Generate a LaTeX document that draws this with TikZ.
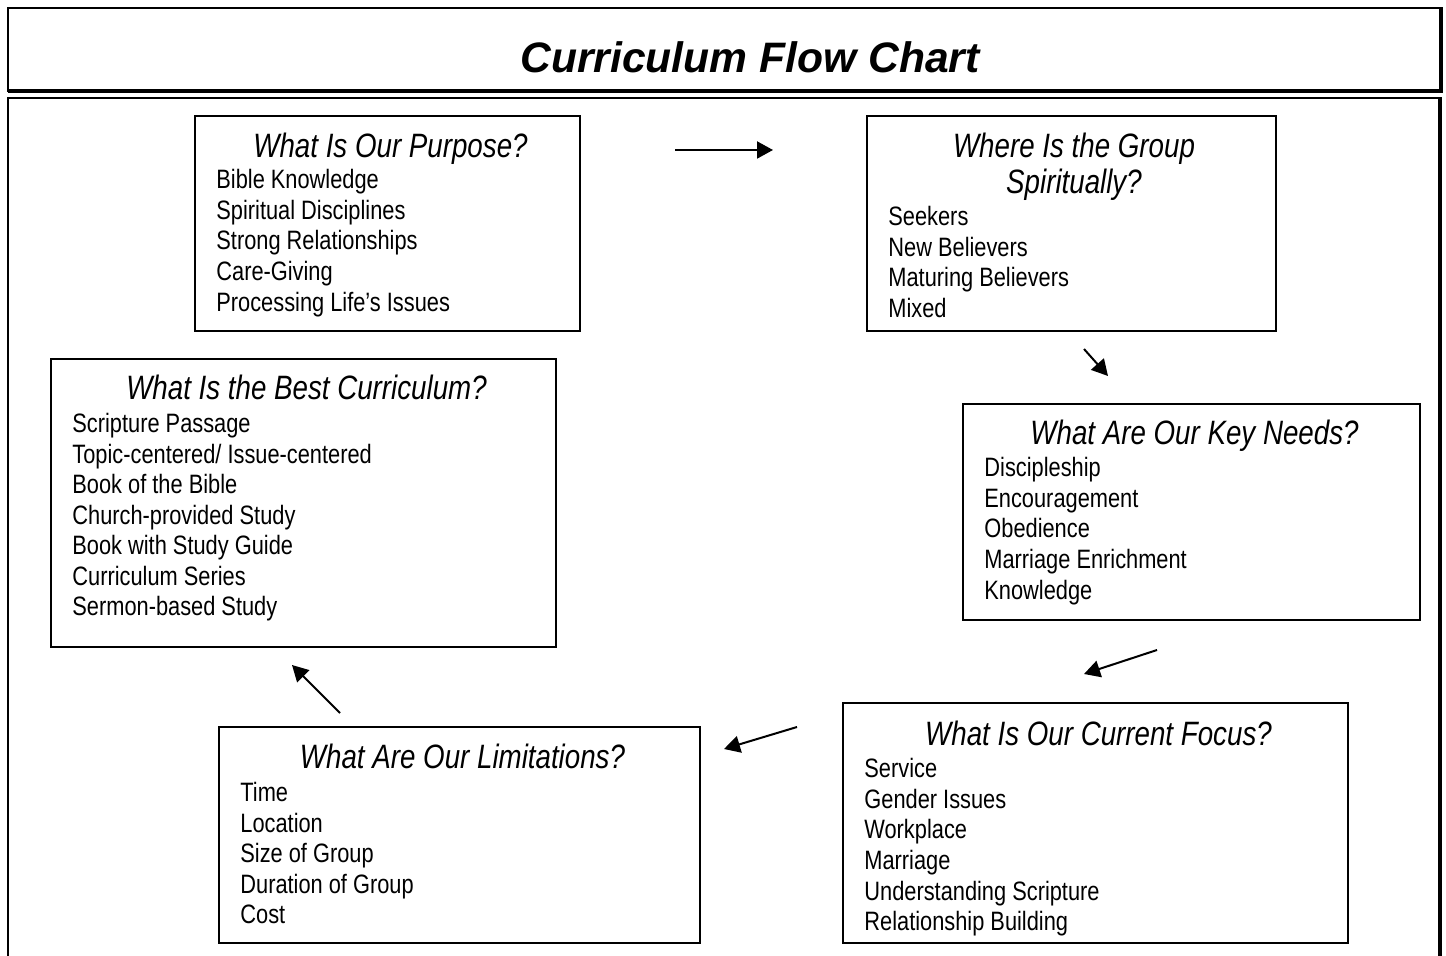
\documentclass[tikz,border=0pt]{standalone}
\usepackage{fontspec}
\setmainfont{Liberation Sans}
\newfontfamily\narrowfont[FakeStretch=0.82]{Liberation Sans}
\usetikzlibrary{arrows.meta}
\tikzset{
  frame/.style={draw=black, line width=1pt},
  thickframe/.style={draw=black, line width=1.6pt},
  qbox/.style={draw=black, line width=1pt, inner sep=0pt},
  head/.style={anchor=base, inner sep=0pt, font=\narrowfont\itshape\fontsize{16.9pt}{20pt}\selectfont},
  item/.style={anchor=base west, inner sep=0pt, font=\narrowfont\fontsize{13.3pt}{16pt}\selectfont},
  titletext/.style={anchor=base, inner sep=0pt, font=\bfseries\itshape\fontsize{21.3pt}{26pt}\selectfont},
  flow/.style={line width=1pt, -{Triangle[length=8pt,width=8.5pt]}}
}
\begin{document}
\begin{tikzpicture}[x=0.5pt,y=-0.5pt]
\useasboundingbox (0,0) rectangle (1446,956);
% title frame
\draw[frame] (1441,91) -- (8,91) -- (8,8) -- (1441,8);
\draw[thickframe] (1441,7.5) -- (1441,91) -- (7.5,91);
\node[titletext] (title) at (750,73) {Curriculum Flow Chart};
% body frame
\draw[frame] (8,960) -- (8,98) -- (1440,98);
\draw[thickframe] (1440,97.5) -- (1440,960);

% box 1
\node[qbox, minimum width=385pt*0.5, minimum height=215pt*0.5] (b1) at (387.5,223.5) {};
\node[head] (h1) at (390.5,158) {What Is Our Purpose?};
\node[item] (b1a) at (216,189) {Bible Knowledge};
\node[item] (b1b) at (216,220) {Spiritual Disciplines};
\node[item] (b1c) at (216,250) {Strong Relationships};
\node[item] (b1d) at (216,281) {Care-Giving};
\node[item] (b1e) at (216,312) {Processing Life’s Issues};

% box 2
\node[qbox, minimum width=409pt*0.5, minimum height=215pt*0.5] (b2) at (1071.5,223.5) {};
\node[head] (h2a) at (1074,158) {Where Is the Group};
\node[head] (h2b) at (1074,194) {Spiritually?};
\node[item] (b2a) at (888,226) {Seekers};
\node[item] (b2b) at (888,257) {New Believers};
\node[item] (b2c) at (888,287) {Maturing Believers};
\node[item] (b2d) at (888,318) {Mixed};

% box 3
\node[qbox, minimum width=457pt*0.5, minimum height=216pt*0.5] (b3) at (1191.5,512) {};
\node[head] (h3) at (1194.5,445) {What Are Our Key Needs?};
\node[item] (b3a) at (984,477) {Discipleship};
\node[item] (b3b) at (984,508) {Encouragement};
\node[item] (b3c) at (984,538) {Obedience};
\node[item] (b3d) at (984,569) {Marriage Enrichment};
\node[item] (b3e) at (984,600) {Knowledge};

% box 4
\node[qbox, minimum width=505pt*0.5, minimum height=240pt*0.5] (b4) at (1095.5,823) {};
\node[head] (h4) at (1098.5,745) {What Is Our Current Focus?};
\node[item] (b4a) at (864,777) {Service};
\node[item] (b4b) at (864,808) {Gender Issues};
\node[item] (b4c) at (864,838) {Workplace};
\node[item] (b4d) at (864,869) {Marriage};
\node[item] (b4e) at (864,900) {Understanding Scripture};
\node[item] (b4f) at (864,930) {Relationship Building};

% box 5
\node[qbox, minimum width=481pt*0.5, minimum height=216pt*0.5] (b5) at (459.5,835) {};
\node[head] (h5) at (462.5,769) {What Are Our Limitations?};
\node[item] (b5a) at (240,801) {Time};
\node[item] (b5b) at (240,832) {Location};
\node[item] (b5c) at (240,862) {Size of Group};
\node[item] (b5d) at (240,893) {Duration of Group};
\node[item] (b5e) at (240,923) {Cost};

% box 6
\node[qbox, minimum width=505pt*0.5, minimum height=288pt*0.5] (b6) at (303.5,503) {};
\node[head] (h6) at (306.5,400) {What Is the Best Curriculum?};
\node[item] (b6a) at (72,433) {Scripture Passage};
\node[item] (b6b) at (72,464) {Topic-centered/ Issue-centered};
\node[item] (b6c) at (72,494) {Book of the Bible};
\node[item] (b6d) at (72,525) {Church-provided Study};
\node[item] (b6e) at (72,555) {Book with Study Guide};
\node[item] (b6f) at (72,586) {Curriculum Series};
\node[item] (b6g) at (72,616) {Sermon-based Study};

% arrow end points
\coordinate (a1s) at (675,150); \coordinate (a1e) at (773,150);
\coordinate (a2s) at (1084,349); \coordinate (a2e) at (1108,376);
\coordinate (a3s) at (1157,650); \coordinate (a3e) at (1084,674);
\coordinate (a4s) at (797,727); \coordinate (a4e) at (724,749);
\coordinate (a5s) at (340,713); \coordinate (a5e) at (292,665);
\draw[flow] (a1s) -- (a1e);
\draw[flow] (a2s) -- (a2e);
\draw[flow] (a3s) -- (a3e);
\draw[flow] (a4s) -- (a4e);
\draw[flow] (a5s) -- (a5e);
\end{tikzpicture}
\end{document}
